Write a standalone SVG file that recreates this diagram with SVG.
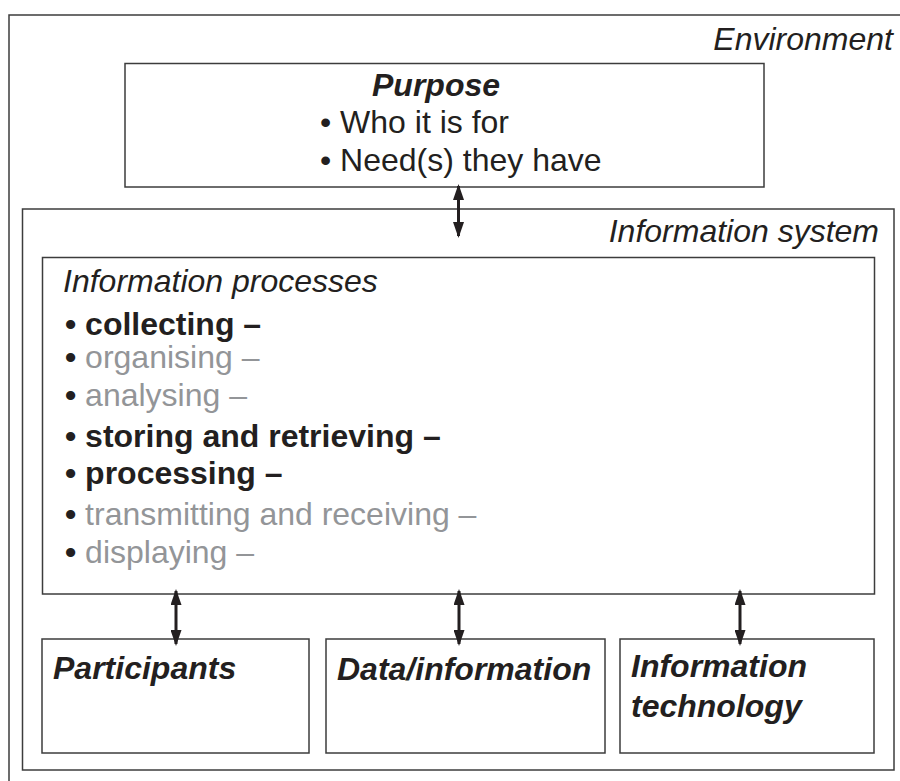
<svg xmlns="http://www.w3.org/2000/svg" width="900" height="781" viewBox="0 0 900 781">
<style>
.box{fill:none;stroke:#3c3c3c;stroke-width:1.5}
.t{font-family:"Liberation Sans",Arial,sans-serif;font-size:32px;fill:#231f20}
.i{font-style:italic}
.b{font-weight:bold}
.g{fill:#939598}
.k{fill:#231f20;font-weight:bold}
.conn{stroke:#231f20;stroke-width:3;fill:none}
</style>
<defs>
<marker id="ah" viewBox="0 0 16 11" refX="14" refY="5.5" markerWidth="16" markerHeight="11" markerUnits="userSpaceOnUse" orient="auto-start-reverse">
<path d="M0,0 L16,5.5 L0,11 z" fill="#231f20"/>
</marker>
</defs>
<rect width="900" height="781" fill="#ffffff"/>
<g id="environment">
<rect class="box" x="9" y="15" width="905" height="800"/>
<text class="t i" x="893" y="50" text-anchor="end">Environment</text>
</g>
<g id="purpose">
<rect class="box" x="125" y="63.5" width="639" height="123.5"/>
<text class="t i b" x="436" y="96" text-anchor="middle">Purpose</text>
<text class="t" x="320" y="133">• Who it is for</text>
<text class="t" x="320" y="171">• Need(s) they have</text>
</g>
<g id="information-system">
<rect class="box" x="22.5" y="209" width="871.5" height="561"/>
<text class="t i" x="879" y="242" text-anchor="end">Information system</text>
</g>
<g id="information-processes">
<rect class="box" x="42.5" y="257.5" width="832" height="336.5"/>
<text class="t i" x="63" y="292">Information processes</text>
<text class="t b" x="65" y="335">• collecting –</text>
<text class="t g" x="65" y="368"><tspan class="k">•</tspan> organising –</text>
<text class="t g" x="65" y="406"><tspan class="k">•</tspan> analysing –</text>
<text class="t b" x="65" y="447">• storing and retrieving –</text>
<text class="t b" x="65" y="484">• processing –</text>
<text class="t g" x="65" y="525"><tspan class="k">•</tspan> transmitting and receiving –</text>
<text class="t g" x="65" y="563"><tspan class="k">•</tspan> displaying –</text>
</g>
<g id="participants">
<rect class="box" x="42" y="639" width="267" height="114"/>
<text class="t i b" x="53" y="679">Participants</text>
</g>
<g id="data-information">
<rect class="box" x="326" y="639" width="279" height="114"/>
<text class="t i b" x="337" y="680">Data/information</text>
</g>
<g id="information-technology">
<rect class="box" x="620" y="639" width="254" height="114"/>
<text class="t i b" x="631" y="677">Information</text>
<text class="t i b" x="631" y="717">technology</text>
</g>
<g id="connectors">
<line class="conn" x1="458.5" y1="186" x2="458.5" y2="236" marker-start="url(#ah)" marker-end="url(#ah)"/>
<line class="conn" x1="176" y1="591" x2="176" y2="644" marker-start="url(#ah)" marker-end="url(#ah)"/>
<line class="conn" x1="459" y1="591" x2="459" y2="644" marker-start="url(#ah)" marker-end="url(#ah)"/>
<line class="conn" x1="740" y1="591" x2="740" y2="644" marker-start="url(#ah)" marker-end="url(#ah)"/>
</g>
</svg>
